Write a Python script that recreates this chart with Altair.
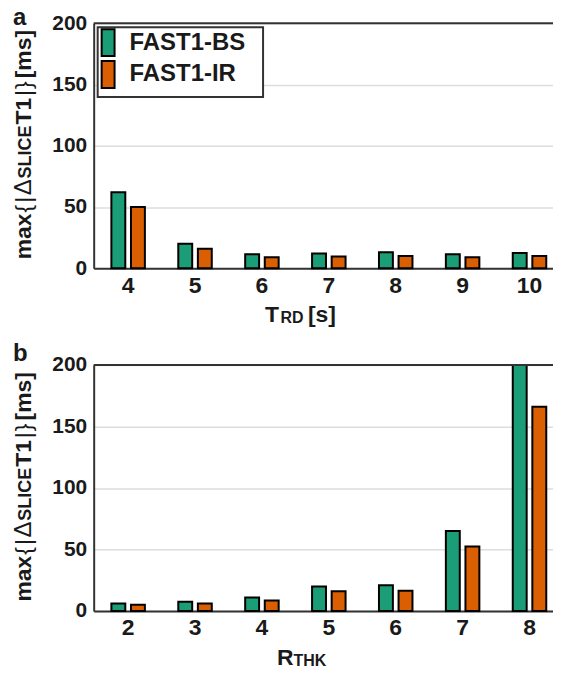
import altair as alt
import pandas as pd

# ---- data ----
series = ["FAST1-BS", "FAST1-IR"]
colors = ["#1b9e77", "#d95f02"]

trd = ["4", "5", "6", "7", "8", "9", "10"]
a_bs = [62, 20, 11.5, 12, 13, 11.5, 12.5]
a_ir = [50, 16, 9, 9.5, 10, 9, 10]

rthk = ["2", "3", "4", "5", "6", "7", "8"]
b_bs = [6, 7.5, 11, 20, 21, 65, 200]
b_ir = [5, 6, 8.5, 16, 16.5, 52.5, 166]

y_ticks = [0, 50, 100, 150, 200]

FONT = "Liberation Sans"
INK = "#1a1a1a"
W = 472


def frame(cats, bs, ir):
    return pd.DataFrame({
        "cat": cats + cats,
        "series": [series[0]] * len(cats) + [series[1]] * len(cats),
        "val": bs + ir,
    })


def txt(t, x, y, size, weight="bold", angle=0, align="left", baseline="alphabetic"):
    return alt.Chart(pd.DataFrame({"t": [t]})).mark_text(
        font=FONT, fontSize=size, fontWeight=weight, color=INK,
        angle=angle, align=align, baseline=baseline
    ).encode(text="t:N", x=alt.value(x), y=alt.value(y))


# y-title pieces: (text, size, weight, start position along the rotated line for a 252px panel)
ytitle = [("max", 23, "bold", 240), ("{", 23, "normal", 193), ("|", 23, "normal", 183.3),
          ("\u0394", 24, "normal", 175.8), ("SLICE", 18, "bold", 158.8), ("T1", 23, "bold", 104.8),
          ("|", 23, "normal", 76), ("}", 23, "normal", 69), ("[ms]", 23, "bold", 58.3)]


def panel(df, cats, H, letter, letter_y, xtitle, show_legend):
    if show_legend:
        legend = alt.Legend(
            title=None, orient="none", legendX=5, legendY=3,
            symbolType="M-1,-1H-0.04V1H-1Z", symbolSize=729,
            symbolStrokeColor="black", symbolStrokeWidth=2, symbolOpacity=1,
            labelFontSize=24, labelFont=FONT, labelFontWeight="bold", labelColor=INK,
            labelOffset=0, rowPadding=-4, padding=2,
        )
    else:
        legend = None
    bars = alt.Chart(df).mark_bar(stroke="black", strokeWidth=2).encode(
        x=alt.X("cat:N", sort=cats,
                scale=alt.Scale(paddingInner=0.47, paddingOuter=0.25),
                axis=alt.Axis(title=None, labelAngle=0, labelFontSize=23, labelFont=FONT,
                              labelFontWeight="bold", labelColor=INK, labelPadding=6,
                              ticks=False, tickSize=0, domainColor="#333333", domainWidth=2,
                              grid=False)),
        xOffset=alt.XOffset("series:N", sort=series,
                            scale=alt.Scale(paddingInner=0.29, paddingOuter=0.05)),
        y=alt.Y("val:Q", scale=alt.Scale(domain=[0, 200]),
                axis=alt.Axis(title=None, values=y_ticks, labelFontSize=21, labelFont=FONT,
                              labelFontWeight="bold", labelColor=INK, labelPadding=7,
                              ticks=False, tickSize=0, domainColor="#333333", domainWidth=2,
                              grid=True, gridColor="#dddddd", gridWidth=1.5)),
        color=alt.Color("series:N", scale=alt.Scale(domain=series, range=colors), legend=legend),
    )
    one = pd.DataFrame({"t": [0]})
    top = alt.Chart(one).mark_rule(color="#333333", strokeWidth=2).encode(
        x=alt.value(0), x2=alt.value(W), y=alt.value(0))
    layers = [bars, top]
    if show_legend:
        layers.append(alt.Chart(one).mark_rect(fill="white", stroke="#333333", strokeWidth=2).encode(
            x=alt.value(4), x2=alt.value(170), y=alt.value(4), y2=alt.value(74)))
    layers.append(txt(letter, -81, letter_y, 24))
    shift = (H - 252) / 2
    for t, s, wgt, pos in ytitle:
        layers.append(txt(t, -62.5, pos + shift, s, wgt, angle=270))
    for t, s, x, y in xtitle:
        layers.append(txt(t, x, H + y, s))
    return alt.layer(*layers).properties(width=W, height=H)


pa = panel(frame(trd, a_bs, a_ir), trd, 246, "a", 2,
           [("T", 23, 172, 54), ("RD", 16, 187.5, 55), ("[s]", 23, 215, 54)], True)
pb = panel(frame(rthk, b_bs, b_ir), rthk, 247, "b", -4,
           [("R", 23, 184, 54), ("THK", 16, 200.5, 55)], False)

chart = alt.vconcat(pa, pb, spacing=97, bounds="flush").resolve_scale(
    color="independent").properties(
    padding={"left": 4, "top": -3, "right": -12, "bottom": 0}
).configure_view(stroke=None)

chart.save("out.html", embed_options={"renderer": "svg", "actions": False})
